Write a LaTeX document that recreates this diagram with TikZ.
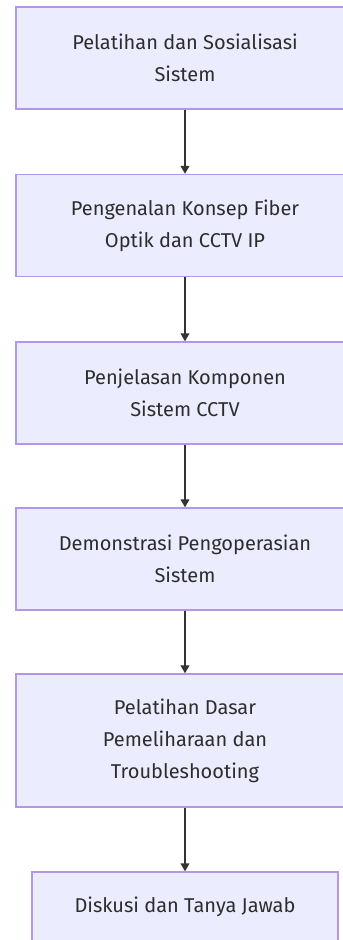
\documentclass[tikz,border=0pt]{standalone}
\usepackage{fontspec}
\setmainfont{Fira Sans}
\usetikzlibrary{arrows.meta}
\definecolor{boxfill}{RGB}{236,236,255}
\definecolor{boxline}{RGB}{180,150,230}
\definecolor{arrowcol}{RGB}{51,51,51}
\definecolor{textcol}{RGB}{45,45,45}

\begin{document}
\begin{tikzpicture}[x=0.75pt,y=0.75pt,yscale=-1,xscale=1,
  stepbox/.style={draw=boxline, fill=boxfill, line width=1pt, inner sep=0pt,
    align=center, text=textcol, font=\fontsize{15pt}{24pt}\selectfont},
  flow/.style={draw=arrowcol, line width=1.3pt, -{Triangle[length=6pt,width=6.5pt]}}]
\useasboundingbox (0,0) rectangle (343,940);

% Text Node
\node (pel) [stepbox, minimum width=253.5pt, minimum height=76.5pt] at (185,58) {Pelatihan dan Sosialisasi\\Sistem};
% Text Node
\node (kon) [stepbox, minimum width=253.5pt, minimum height=76.5pt] at (185,225.5) {Pengenalan Konsep Fiber\\Optik dan CCTV IP};
% Text Node
\node (kom) [stepbox, minimum width=253.5pt, minimum height=76.5pt] at (185,393) {Penjelasan Komponen\\Sistem CCTV};
% Text Node
\node (demo) [stepbox, minimum width=253.5pt, minimum height=76.5pt] at (185,559) {Demonstrasi Pengoperasian\\Sistem};
% Text Node
\node (dasar) [stepbox, minimum width=253.5pt, minimum height=99.75pt] at (185,740.5) {Pelatihan Dasar\\Pemeliharaan dan\\Troubleshooting};
% Text Node
\node (tanya) [stepbox, minimum width=229.5pt, minimum height=52.5pt] at (185,907) {Diskusi dan Tanya Jawab};

% Connection
\draw [flow] (pel) -- (kon);
% Connection
\draw [flow] (kon) -- (kom);
% Connection
\draw [flow] (kom) -- (demo);
% Connection
\draw [flow] (demo) -- (dasar);
% Connection
\draw [flow] (dasar) -- (tanya);

\end{tikzpicture}
\end{document}
